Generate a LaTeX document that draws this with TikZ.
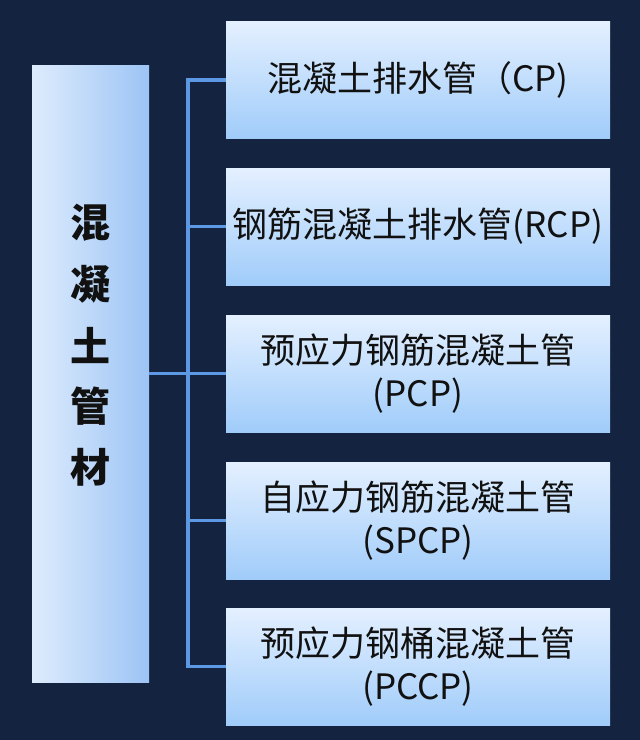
\documentclass[tikz,border=0pt]{standalone}
\usepackage{fontspec}
\newfontfamily\cjk{Noto Sans CJK SC}
\definecolor{bg}{RGB}{20,36,64}
\definecolor{boxtop}{RGB}{228,240,255}
\definecolor{boxbot}{RGB}{160,204,250}
\definecolor{lboxl}{RGB}{222,236,253}
\definecolor{lboxr}{RGB}{156,196,245}
\definecolor{linkc}{RGB}{92,152,228}
\definecolor{txt}{RGB}{17,17,17}
\begin{document}
\begin{tikzpicture}[x=1pt,y=-1pt,
  rbox/.style={minimum width=384pt, minimum height=117pt, top color=boxtop, bottom color=boxbot, draw=none, inner sep=0pt, align=center, text=txt, font=\cjk\fontsize{35}{43}\selectfont},
  lbox/.style={minimum width=117pt, minimum height=617pt, left color=lboxl, right color=lboxr, draw=none, inner sep=0pt},
  vchar/.style={text=txt, font=\cjk\bfseries\fontsize{40}{40}\selectfont, inner sep=0pt},
  link/.style={draw=linkc, line width=3.5pt}]
\fill[bg] (0,0) rectangle (640,740);
\useasboundingbox (0,0) rectangle (640,740);
% left box
\node[lbox] (L) at (90.5,373.5) {};
\node[vchar] (c1) at (90,223) {混};
\node[vchar] (c2) at (90,284) {凝};
\node[vchar] (c3) at (90,345) {土};
\node[vchar] (c4) at (90,406) {管};
\node[vchar] (c5) at (90,467) {材};
% right boxes
\node[rbox] (A) at (418,80) {混凝土排水管（CP)};
\node[rbox] (B) at (418,226.5) {钢筋混凝土排水管(RCP)};
\node[rbox] (C) at (418,373.5) {预应力钢筋混凝土管\\(PCP)};
\node[rbox] (D) at (418,520.5) {自应力钢筋混凝土管\\(SPCP)};
\node[rbox] (E) at (418,666.5) {预应力钢桶混凝土管\\(PCCP)};
% connectors
\coordinate (tx) at (188,0);
\draw[link] (L.east) -- (C.west);
\draw[link, line join=miter] (A.west) -- (tx |- A.west) -- (tx |- E.west) -- (E.west);
\draw[link] (tx |- B.west) -- (B.west);
\draw[link] (tx |- D.west) -- (D.west);
\end{tikzpicture}
\end{document}
